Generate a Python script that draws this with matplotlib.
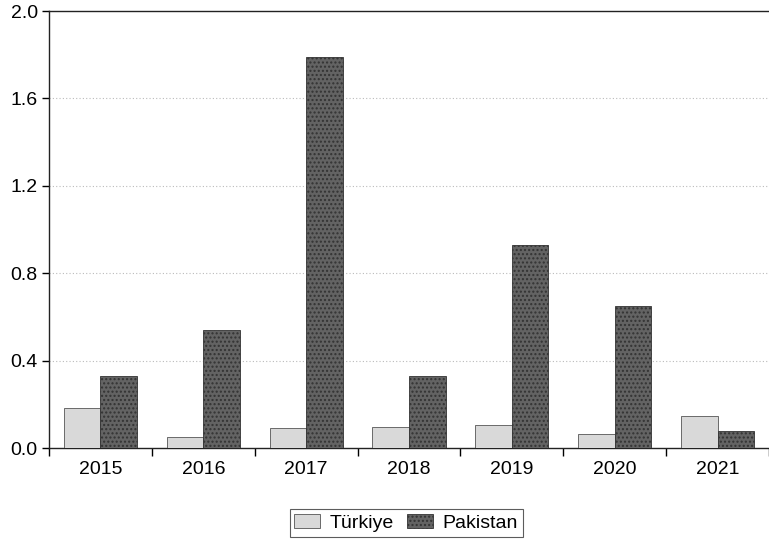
import matplotlib
matplotlib.use("Agg")
import matplotlib.pyplot as plt
import numpy as np
from matplotlib.ticker import FixedLocator, FormatStrFormatter

years = ["2015", "2016", "2017", "2018", "2019", "2020", "2021"]
turkiye = [0.183, 0.050, 0.090, 0.095, 0.105, 0.063, 0.145]
pakistan = [0.330, 0.540, 1.790, 0.330, 0.930, 0.650, 0.078]
y_ticks = [0.0, 0.4, 0.8, 1.2, 1.6, 2.0]

plt.rcParams['font.family'] = ['Liberation Sans', 'DejaVu Sans']
plt.rcParams['hatch.color'] = "#8a8a8a"

fig = plt.figure(figsize=(7.69, 5.42), dpi=100)
ax = fig.add_axes([0.0637, 0.1734, 0.9363, 0.8063])

x = np.arange(len(years))
w = 0.355
ax.bar(x - w / 2, turkiye, w, color="#d9d9d9", edgecolor="#555555",
       linewidth=0.6, label="Türkiye", zorder=3)
ax.bar(x + w / 2, pakistan, w, color="#636363", edgecolor="#333333",
       linewidth=0.6, hatch="....", label="Pakistan", zorder=3)

ax.set_xlim(-0.5, len(years) - 0.5)
ax.set_ylim(0, 2.0)
ax.set_yticks(y_ticks)
ax.yaxis.set_major_formatter(FormatStrFormatter("%.1f"))
ax.set_xticks(x)
ax.set_xticklabels(years)
ax.xaxis.set_minor_locator(FixedLocator(np.arange(-0.5, len(years), 1.0)))
ax.tick_params(axis="x", which="major", length=0, pad=9, labelsize=14)
ax.tick_params(axis="x", which="minor", length=6, width=1, direction="out")
ax.tick_params(axis="y", length=5, width=1, direction="out", labelsize=14, pad=3)

for v in y_ticks[1:-1]:
    ax.axhline(v, color="#bbbbbb", linestyle=(0, (1, 2)), linewidth=0.8, zorder=1)

for s in ["left", "bottom", "top"]:
    ax.spines[s].set_linewidth(1.0)
    ax.spines[s].set_color("#222222")
ax.spines["right"].set_visible(False)

leg = fig.legend(loc="lower center", bbox_to_anchor=(0.528, -0.008), ncol=2,
                 frameon=True, fancybox=False, edgecolor="#333333",
                 fontsize=14, handlelength=1.3, handleheight=0.7,
                 columnspacing=0.7, handletextpad=0.5, borderpad=0.25)
leg.get_frame().set_linewidth(0.8)

fig.savefig("out.png", dpi=100)
